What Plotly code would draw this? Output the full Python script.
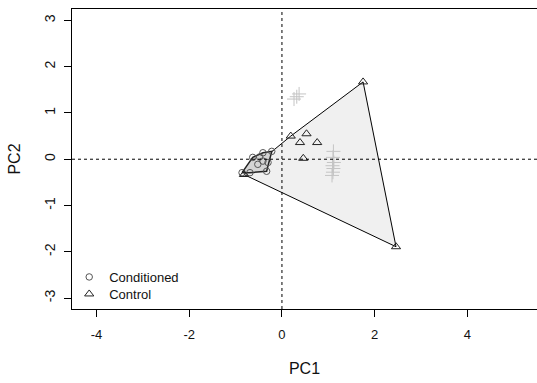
import plotly.graph_objects as go

# --- data ---
ctrl_x = [-0.82, 0.19, 0.53, 0.39, 0.76, 0.46, 1.75, 2.46]
ctrl_y = [-0.33, 0.50, 0.55, 0.36, 0.36, 0.02, 1.67, -1.89]

cond_x = [-0.86, -0.63, -0.41, -0.22, -0.30, -0.33, -0.69, -0.41, -0.52, -0.48]
cond_y = [-0.29, 0.04, 0.14, 0.17, -0.07, -0.26, -0.29, -0.04, -0.11, 0.05]

other_x = [0.37, 0.26, 0.32, 1.11, 1.10, 1.12, 1.09, 1.11, 1.10, 1.08]
other_y = [1.41, 1.30, 1.35, 0.17, 0.04, -0.07, -0.14, -0.20, -0.28, -0.35]

x_ticks = [-4, -2, 0, 2, 4]
y_ticks = [-3, -2, -1, 0, 1, 2, 3]


def hull(xs, ys):
    pts = sorted(set(zip(xs, ys)))
    if len(pts) <= 2:
        return pts

    def cross(o, a, b):
        return (a[0] - o[0]) * (b[1] - o[1]) - (a[1] - o[1]) * (b[0] - o[0])

    lower, upper = [], []
    for p in pts:
        while len(lower) >= 2 and cross(lower[-2], lower[-1], p) <= 0:
            lower.pop()
        lower.append(p)
    for p in reversed(pts):
        while len(upper) >= 2 and cross(upper[-2], upper[-1], p) <= 0:
            upper.pop()
        upper.append(p)
    h = lower[:-1] + upper[:-1]
    return h + [h[0]]


font = "Liberation Sans, Arial, sans-serif"
fig = go.Figure()

ch = hull(ctrl_x, ctrl_y)
fig.add_trace(go.Scatter(x=[p[0] for p in ch], y=[p[1] for p in ch], mode="lines",
                         fill="toself", fillcolor="#f0f0f0",
                         line=dict(color="black", width=1), showlegend=False, hoverinfo="skip"))
kh = hull(cond_x, cond_y)
fig.add_trace(go.Scatter(x=[p[0] for p in kh], y=[p[1] for p in kh], mode="lines",
                         fill="toself", fillcolor="#d4d4d4",
                         line=dict(color="#222222", width=1.5), showlegend=False, hoverinfo="skip"))

fig.add_trace(go.Scatter(x=other_x, y=other_y, mode="markers", showlegend=False,
                         marker=dict(symbol="cross-thin-open", size=10, color="#c4c4c4",
                                     line=dict(width=1, color="#c4c4c4"))))
fig.add_trace(go.Scatter(x=cond_x, y=cond_y, mode="markers", name="Conditioned",
                         legend="legend",
                         marker=dict(symbol="circle-open", size=6.5, color="#555555",
                                     line=dict(width=1, color="#555555"))))
fig.add_trace(go.Scatter(x=ctrl_x, y=ctrl_y, mode="markers", name="Control",
                         legend="legend2",
                         marker=dict(symbol="triangle-up-open", size=8, color="#222222",
                                     line=dict(width=1, color="#222222"))))

fig.add_shape(type="line", xref="x", yref="paper", x0=0, x1=0, y0=0, y1=1,
              line=dict(color="black", width=1, dash="dot"), layer="above")
fig.add_shape(type="line", xref="paper", yref="y", x0=0, x1=1, y0=0, y1=0,
              line=dict(color="black", width=1, dash="dot"), layer="above")

leg_common = dict(x=-0.006, xanchor="left", yanchor="middle",
                  bgcolor="rgba(0,0,0,0)", font=dict(size=13), borderwidth=0)

fig.update_layout(
    width=537, height=383,
    margin=dict(l=72, r=0, t=9, b=74, autoexpand=False),
    paper_bgcolor="white", plot_bgcolor="white",
    font=dict(family=font, size=13, color="#111111"),
    showlegend=True,
    legend=dict(y=0.1067, **leg_common),
    legend2=dict(y=0.05, **leg_common),
)
fig.update_xaxes(range=[-4.527, 5.50], tickvals=x_ticks, ticktext=[str(v) for v in x_ticks],
                 showgrid=False, zeroline=False, showline=True, mirror=True,
                 linecolor="black", linewidth=1, ticks="outside", ticklen=7,
                 tickcolor="black", automargin=False, ticklabelstandoff=6,
                 title=dict(text="PC1", standoff=22))
fig.update_yaxes(range=[-3.235, 3.245], tickvals=y_ticks, ticktext=[str(v) for v in y_ticks],
                 showgrid=False, zeroline=False, showline=True, mirror=False,
                 linecolor="black", linewidth=1, ticks="outside", ticklen=7,
                 tickcolor="black", tickangle=-90, automargin=False, ticklabelstandoff=3,
                 tickfont=dict(size=14),
                 title=dict(text="PC2", standoff=17))

fig.write_html("out.html", config={"displayModeBar": False},
               post_script="document.body.style.margin='0';document.body.style.overflow='hidden';")
